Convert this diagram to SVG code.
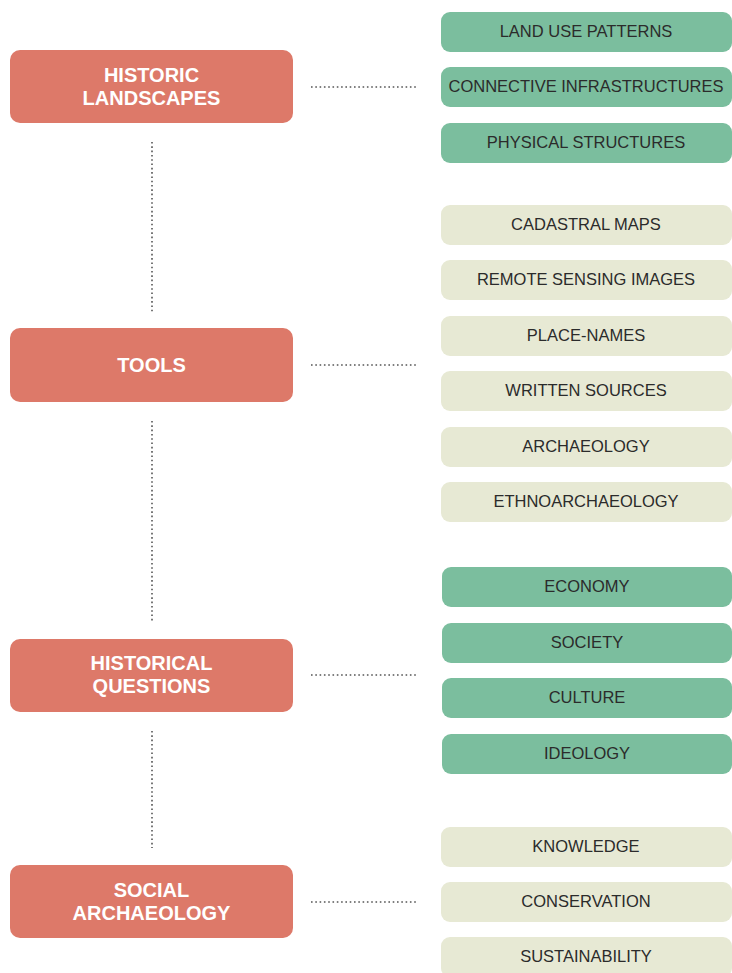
<svg xmlns="http://www.w3.org/2000/svg" width="732" height="973" viewBox="0 0 732 973">
<style>
.main rect{fill:#DD7969}
.main text{fill:#fff;font-family:"Liberation Sans",Arial,sans-serif;font-weight:bold;font-size:20px;text-anchor:middle}
.item text{fill:#2b2b2b;font-family:"Liberation Sans",Arial,sans-serif;font-size:16.5px;text-anchor:middle}
.g rect{fill:#7BBE9E}
.l rect{fill:#E7E9D4}
.conn line{stroke:#555;stroke-width:1.6;stroke-dasharray:1.6 2.7;fill:none}
</style>
<rect width="732" height="973" fill="#fff"/>
<g id="connectors" class="conn">
<line x1="311" y1="87" x2="417" y2="87"/>
<line x1="311" y1="365" x2="417" y2="365"/>
<line x1="311" y1="675" x2="417" y2="675"/>
<line x1="311" y1="902" x2="417" y2="902"/>
<line x1="152" y1="142" x2="152" y2="312"/>
<line x1="152" y1="421" x2="152" y2="622"/>
<line x1="152" y1="731" x2="152" y2="848"/>
</g>
<g id="historic-landscapes" class="main"><rect x="10" y="50" width="283" height="73" rx="10"/><text x="151.5" y="82">HISTORIC</text><text x="151.5" y="105">LANDSCAPES</text></g>
<g id="tools" class="main"><rect x="10" y="328" width="283" height="74" rx="10"/><text x="151.5" y="372">TOOLS</text></g>
<g id="historical-questions" class="main"><rect x="10" y="639" width="283" height="73" rx="10"/><text x="151.5" y="670">HISTORICAL</text><text x="151.5" y="693">QUESTIONS</text></g>
<g id="social-archaeology" class="main"><rect x="10" y="865" width="283" height="73" rx="10"/><text x="151.5" y="897">SOCIAL</text><text x="151.5" y="920">ARCHAEOLOGY</text></g>
<g id="land-use-patterns" class="item g"><rect x="441" y="12" width="291" height="40" rx="9"/><text x="586" y="37">LAND USE PATTERNS</text></g>
<g id="connective-infrastructures" class="item g"><rect x="441" y="67" width="291" height="40" rx="9"/><text x="586" y="92">CONNECTIVE INFRASTRUCTURES</text></g>
<g id="physical-structures" class="item g"><rect x="441" y="123" width="291" height="40" rx="9"/><text x="586" y="148">PHYSICAL STRUCTURES</text></g>
<g id="cadastral-maps" class="item l"><rect x="441" y="205" width="291" height="40" rx="9"/><text x="586" y="230">CADASTRAL MAPS</text></g>
<g id="remote-sensing-images" class="item l"><rect x="441" y="260" width="291" height="40" rx="9"/><text x="586" y="285">REMOTE SENSING IMAGES</text></g>
<g id="place-names" class="item l"><rect x="441" y="316" width="291" height="40" rx="9"/><text x="586" y="341">PLACE-NAMES</text></g>
<g id="written-sources" class="item l"><rect x="441" y="371" width="291" height="40" rx="9"/><text x="586" y="396">WRITTEN SOURCES</text></g>
<g id="archaeology" class="item l"><rect x="441" y="427" width="291" height="40" rx="9"/><text x="586" y="452">ARCHAEOLOGY</text></g>
<g id="ethnoarchaeology" class="item l"><rect x="441" y="482" width="291" height="40" rx="9"/><text x="586" y="507">ETHNOARCHAEOLOGY</text></g>
<g id="economy" class="item g"><rect x="442" y="567" width="290" height="40" rx="9"/><text x="587" y="592">ECONOMY</text></g>
<g id="society" class="item g"><rect x="442" y="623" width="290" height="40" rx="9"/><text x="587" y="648">SOCIETY</text></g>
<g id="culture" class="item g"><rect x="442" y="678" width="290" height="40" rx="9"/><text x="587" y="703">CULTURE</text></g>
<g id="ideology" class="item g"><rect x="442" y="734" width="290" height="40" rx="9"/><text x="587" y="759">IDEOLOGY</text></g>
<g id="knowledge" class="item l"><rect x="441" y="827" width="291" height="40" rx="9"/><text x="586" y="852">KNOWLEDGE</text></g>
<g id="conservation" class="item l"><rect x="441" y="882" width="291" height="40" rx="9"/><text x="586" y="907">CONSERVATION</text></g>
<g id="sustainability" class="item l"><rect x="441" y="937" width="291" height="40" rx="9"/><text x="586" y="962">SUSTAINABILITY</text></g>
</svg>
